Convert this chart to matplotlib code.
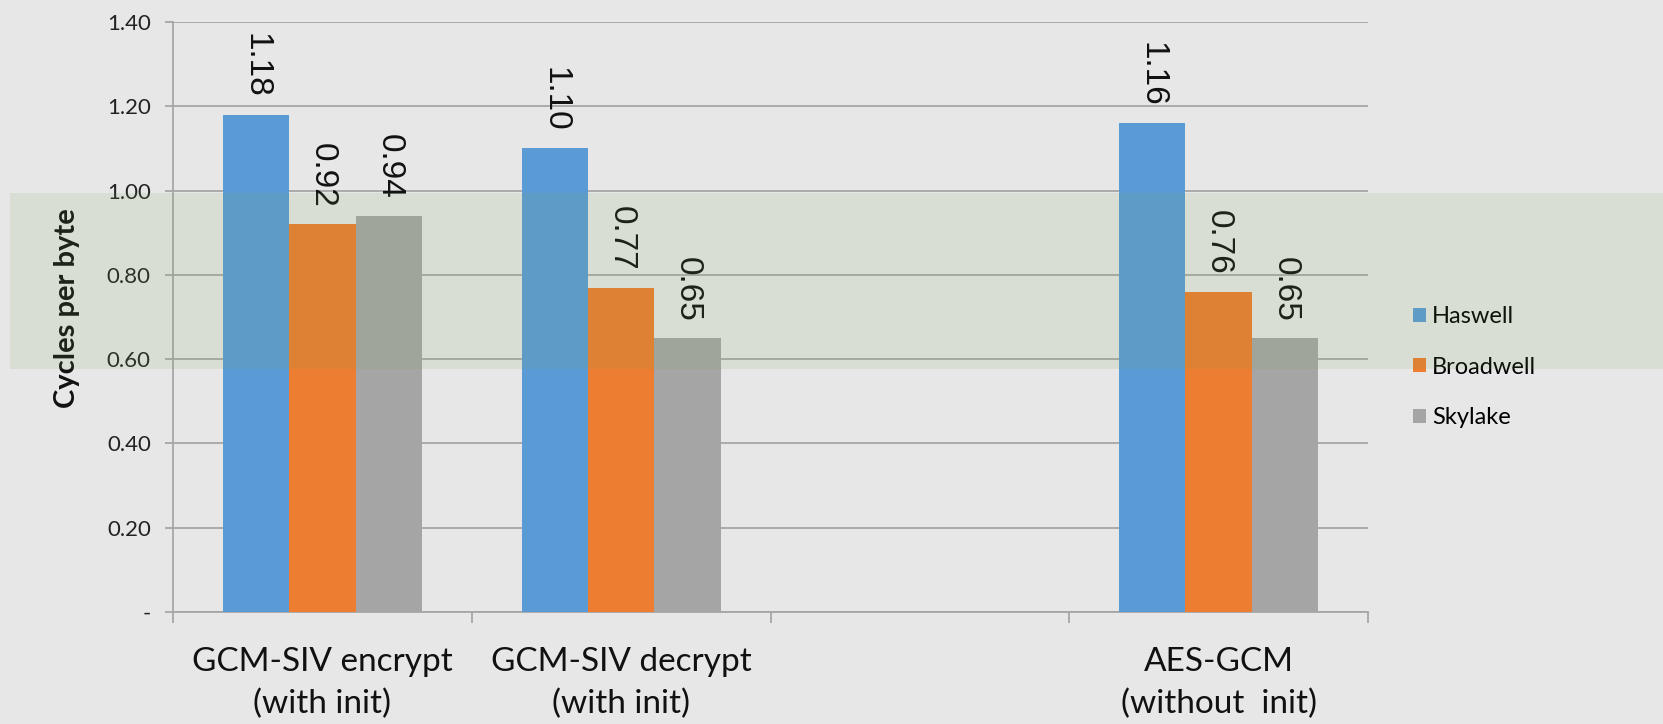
import numpy as np
import matplotlib
matplotlib.use("Agg")
import matplotlib.pyplot as plt
from matplotlib.patches import Rectangle

# data
categories = ["GCM-SIV encrypt\n(with init)", "GCM-SIV decrypt\n(with init)", "", "AES-GCM\n(without  init)"]
series_names = ["Haswell", "Broadwell", "Skylake"]
haswell = [1.18, 1.10, None, 1.16]
broadwell = [0.92, 0.77, None, 0.76]
skylake = [0.94, 0.65, None, 0.65]
yticks = [0, 0.2, 0.4, 0.6, 0.8, 1.0, 1.2, 1.4]
ytick_labels = ["-", "0.20", "0.40", "0.60", "0.80", "1.00", "1.20", "1.40"]

colors = ["#5B9BD5", "#ED7D31", "#A5A5A5"]
bg = "#E7E7E7"
grid_col = "#A6A6A6"
label_font = "Lato"

fig = plt.figure(figsize=(16.63, 7.24), dpi=100, facecolor=bg)
ax = fig.add_axes([173 / 1663, 1 - 612 / 724, 1195 / 1663, 590 / 724])
ax.set_facecolor(bg)

x = np.arange(len(categories))
w = 1 / 4.5
for i, (name, vals) in enumerate(zip(series_names, [haswell, broadwell, skylake])):
    xs = [xx + (i - 1) * w for xx, v in zip(x, vals) if v is not None]
    vs = [v for v in vals if v is not None]
    ax.bar(xs, vs, width=w, color=colors[i], label=name, zorder=3)
    for xx, v in zip(xs, vs):
        ax.annotate(f"{v:.2f}", (xx, v), xytext=(0, 12), textcoords="offset points",
                    rotation=270, ha="center", va="bottom", fontsize=24,
                    family="Liberation Sans", color="#111111", zorder=4)

ax.set_xlim(-0.5, len(categories) - 0.5)
ax.set_ylim(0, 1.4)
ax.set_yticks(yticks)
ax.set_yticklabels(ytick_labels, family=label_font, fontsize=16, color="#222222")
ax.yaxis.grid(True, color=grid_col, linewidth=1.3, zorder=0)
ax.tick_params(axis="y", length=6, color=grid_col, width=1.3, pad=10)

# category boundaries get the tick marks, labels sit in between
ax.set_xticks(np.arange(len(categories) + 1) - 0.5)
ax.set_xticklabels([])
ax.set_xticks(x, minor=True)
ax.set_xticklabels(categories, minor=True, family=label_font, fontsize=24,
                   color="#111111", linespacing=1.5)
ax.tick_params(axis="x", which="major", length=8, color=grid_col, width=1.3)
ax.tick_params(axis="x", which="minor", length=0, pad=25)

for s in ["top", "right"]:
    ax.spines[s].set_visible(False)
for s in ["left", "bottom"]:
    ax.spines[s].set_color(grid_col)
    ax.spines[s].set_linewidth(1.3)

ax.set_ylabel("Cycles per byte", family=label_font, fontweight="bold", fontsize=21,
              color="#111111")
ax.yaxis.set_label_coords(-0.078, 0.515)

leg = ax.legend(loc="center left", bbox_to_anchor=(1.03, 0.415), frameon=False,
                borderaxespad=0, prop={"family": label_font, "size": 17},
                handlelength=0.55, handleheight=0.55, handletextpad=0.25,
                labelspacing=1.25)

# translucent green band across the figure
fig.patches.append(Rectangle((10 / 1663, 1 - 369 / 724), 1.0, 176 / 724,
                             transform=fig.transFigure, facecolor="#7CA552",
                             alpha=0.12, edgecolor="none", zorder=10))

fig.savefig("out.png", dpi=100, facecolor=bg)
